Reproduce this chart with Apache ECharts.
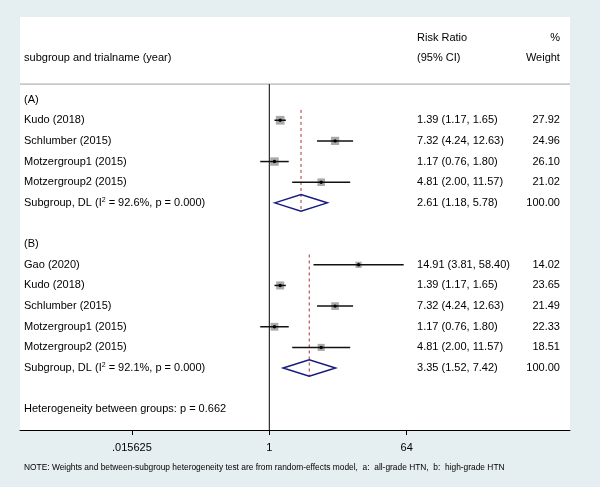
<!DOCTYPE html>
<html><head><meta charset="utf-8">
<script src="https://cdn.jsdelivr.net/npm/echarts@6/dist/echarts.min.js"></script>
<style>html,body{margin:0;padding:0;background:#e5eef0}#c{width:600px;height:487px}</style>
</head><body><div id="c"></div>
<script>
// ---- data ----
const headerTop = ["Risk Ratio", "%"];
const headerBottom = ["subgroup and trialname (year)", "(95% CI)", "Weight"];
const groupNames = ["(A)", "(B)"];

const studiesA = ["Kudo (2018)", "Schlumber (2015)", "Motzergroup1 (2015)", "Motzergroup2 (2015)"];
const rrA = [1.39, 7.32, 1.17, 4.81];
const lowA = [1.17, 4.24, 0.76, 2.00];
const highA = [1.65, 12.63, 1.80, 11.57];
const weightA = [27.92, 24.96, 26.10, 21.02];
const pooledA = [2.61, 1.18, 5.78];
const i2A = "92.6";
const pA = "0.000";

const studiesB = ["Gao (2020)", "Kudo (2018)", "Schlumber (2015)", "Motzergroup1 (2015)", "Motzergroup2 (2015)"];
const rrB = [14.91, 1.39, 7.32, 1.17, 4.81];
const lowB = [3.81, 1.17, 4.24, 0.76, 2.00];
const highB = [58.40, 1.65, 12.63, 1.80, 11.57];
const weightB = [14.02, 23.65, 21.49, 22.33, 18.51];
const pooledB = [3.35, 1.52, 7.42];
const i2B = "92.1";
const pB = "0.000";

const hetBetweenP = "0.662";
const xTickValues = [0.015625, 1, 64];
const xTickLabels = [".015625", "1", "64"];
const noteText = "NOTE: Weights and between-subgroup heterogeneity test are from random-effects model,  a:  all-grade HTN,  b:  high-grade HTN";

// ---- layout constants ----
const FONT = '"Liberation Sans", Arial, Helvetica, sans-serif';
const X_MIN = Math.pow(2, -10.886), X_MAX = Math.pow(2, 13.13);
const COL_LABEL = Math.pow(2, -10.71), COL_EST = Math.pow(2, 6.45), COL_WT = Math.pow(2, 12.69);
const NULL_VALUE = 1;
const SEP_ROW = -0.75;
const DIAMOND_H = 0.4;
const BOX_K = 1.65;

const groups = [
  {name: groupNames[0], studies: studiesA, rr: rrA, lo: lowA, hi: highA, w: weightA, pooled: pooledA, i2: i2A, p: pA},
  {name: groupNames[1], studies: studiesB, rr: rrB, lo: lowB, hi: highB, w: weightB, pooled: pooledB, i2: i2B, p: pB}
];

const fmtCI = (e, l, h) => e.toFixed(2) + " (" + l.toFixed(2) + ", " + h.toFixed(2) + ")";

const textItems = [];
function addText(x, row, text, align) { textItems.push({x, row, text, align}); }
addText(COL_EST, -3, headerTop[0], 'left');
addText(COL_WT, -3, headerTop[1], 'right');
addText(COL_LABEL, -2, headerBottom[0], 'left');
addText(COL_EST, -2, headerBottom[1], 'left');
addText(COL_WT, -2, headerBottom[2], 'right');

const studyRows = [], pooledRows = [], dashRows = [];
let r = 0;
groups.forEach(g => {
  addText(COL_LABEL, r, g.name, 'left');
  const start = r + 0.5;
  r++;
  g.studies.forEach((s, i) => {
    addText(COL_LABEL, r, s, 'left');
    addText(COL_EST, r, fmtCI(g.rr[i], g.lo[i], g.hi[i]), 'left');
    addText(COL_WT, r, g.w[i].toFixed(2), 'right');
    studyRows.push([g.rr[i], r, g.lo[i], g.hi[i], g.w[i]]);
    r++;
  });
  addText(COL_LABEL, r, "Subgroup, DL (I{sup|2} = " + g.i2 + "%, p = " + g.p + ")", 'left');
  addText(COL_EST, r, fmtCI(g.pooled[0], g.pooled[1], g.pooled[2]), 'left');
  addText(COL_WT, r, (100).toFixed(2), 'right');
  pooledRows.push([g.pooled[0], r, g.pooled[1], g.pooled[2]]);
  dashRows.push([g.pooled[0], start, r + DIAMOND_H]);
  r += 2;
});
addText(COL_LABEL, r, "Heterogeneity between groups: p = " + hetBetweenP, 'left');
const LAST_ROW = r + 1;

const chart = echarts.init(document.getElementById('c'));
const option = {
  backgroundColor: '#e5eef0',
  animation: false,
  grid: {left: 20, right: 30, top: 17, bottom: 57, show: true, backgroundColor: '#ffffff', borderWidth: 0},
  xAxis: {
    type: 'log', logBase: 2, min: X_MIN, max: X_MAX,
    axisLine: {show: true, onZero: false, lineStyle: {color: '#000', width: 1}},
    axisTick: {show: true, customValues: xTickValues, length: 5, lineStyle: {color: '#000', width: 1}},
    axisLabel: {show: true, customValues: xTickValues, margin: 12, color: '#000', fontSize: 11, fontFamily: FONT,
      formatter: v => { const i = xTickValues.findIndex(t => Math.abs(t - v) / t < 1e-6); return i >= 0 ? xTickLabels[i] : ''; }},
    splitLine: {show: false}, minorTick: {show: false}, minorSplitLine: {show: false}
  },
  yAxis: {type: 'value', inverse: true, min: -4, max: 16, show: false, splitLine: {show: false}},
  graphic: [{type: 'text', left: 24, top: 463.5, style: {text: noteText, fontSize: 8.4, fontFamily: FONT, fill: '#000'}}],
  series: [
    { // separator and null line
      type: 'custom', silent: true, z: 1,
      data: [[NULL_VALUE, SEP_ROW]],
      encode: {x: 0, y: 1},
      renderItem: (params, api) => {
        const cs = params.coordSys;
        const top = api.coord([NULL_VALUE, SEP_ROW]);
        const bot = api.coord([NULL_VALUE, LAST_ROW]);
        return {type: 'group', children: [
          {type: 'line', shape: {x1: cs.x, y1: top[1], x2: cs.x + cs.width, y2: top[1]}, style: {stroke: '#c9c9c9', lineWidth: 1.6}},
          {type: 'line', shape: {x1: top[0], y1: top[1], x2: bot[0], y2: bot[1]}, style: {stroke: '#000', lineWidth: 1}}
        ]};
      }
    },
    { // dashed pooled lines
      type: 'custom', silent: true, z: 2,
      data: dashRows, encode: {x: 0, y: [1, 2]},
      renderItem: (params, api) => {
        const a = api.coord([api.value(0), api.value(1)]);
        const b = api.coord([api.value(0), api.value(2)]);
        return {type: 'line', shape: {x1: a[0], y1: a[1], x2: b[0], y2: b[1]}, style: {stroke: '#a8323e', lineWidth: 1, lineDash: [3, 3]}};
      }
    },
    { // studies
      type: 'custom', silent: true, z: 3,
      data: studyRows, encode: {x: [0, 2, 3], y: 1},
      renderItem: (params, api) => {
        const row = api.value(1);
        const c = api.coord([api.value(0), row]);
        const l = api.coord([api.value(2), row]);
        const h = api.coord([api.value(3), row]);
        const s = BOX_K * Math.sqrt(api.value(4));
        return {type: 'group', children: [
          {type: 'rect', shape: {x: c[0] - s / 2, y: c[1] - s / 2, width: s, height: s}, style: {fill: '#a9a9a9'}},
          {type: 'line', shape: {x1: l[0], y1: l[1], x2: h[0], y2: h[1]}, style: {stroke: '#111', lineWidth: 1.5}},
          {type: 'circle', shape: {cx: c[0], cy: c[1], r: 1.7}, style: {fill: '#000'}}
        ]};
      }
    },
    { // pooled diamonds
      type: 'custom', silent: true, z: 4,
      data: pooledRows, encode: {x: [0, 2, 3], y: 1},
      renderItem: (params, api) => {
        const row = api.value(1), e = api.value(0);
        const pts = [
          api.coord([api.value(2), row]),
          api.coord([e, row - DIAMOND_H]),
          api.coord([api.value(3), row]),
          api.coord([e, row + DIAMOND_H])
        ];
        return {type: 'polygon', shape: {points: pts}, style: {fill: 'none', stroke: '#161b7c', lineWidth: 1.5}};
      }
    },
    { // text table
      type: 'custom', silent: true, z: 5,
      data: textItems.map(t => [t.x, t.row]), encode: {x: 0, y: 1},
      renderItem: (params, api) => {
        const t = textItems[params.dataIndex];
        const p = api.coord([t.x, t.row]);
        return {type: 'text', x: p[0], y: p[1], style: {
          text: t.text, align: t.align, verticalAlign: 'middle', fontSize: 11, fontFamily: FONT, fill: '#000',
          rich: {sup: {fontSize: 7, fontFamily: FONT, fill: '#000', padding: [0, 0, 6, 0]}}
        }};
      }
    }
  ]
};
chart.setOption(option);
</script></body></html>
